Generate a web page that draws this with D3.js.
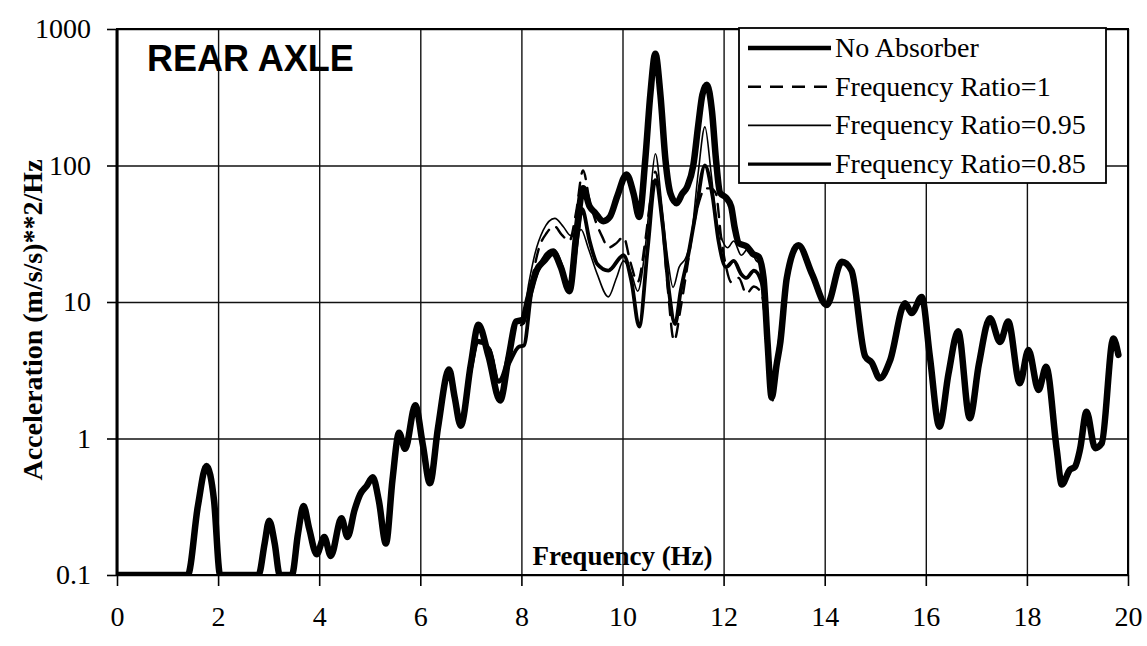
<!DOCTYPE html>
<html>
<head>
<meta charset="utf-8">
<script src="https://cdn.jsdelivr.net/npm/d3@7/dist/d3.min.js"></script>
<style>
  body { margin: 0; background: #fff; }
  svg { display: block; }
</style>
</head>
<body>
<div class="psdChart"></div>
<script>
// Frequency (Hz) and PSD values
const freqNoAbsorber = [0, 1.40, 1.60, 1.77, 1.92, 2.04, 2.80, 2.92, 3.01, 3.12, 3.22, 3.46, 3.58, 3.69, 3.80, 3.95,
  4.10, 4.23, 4.44, 4.56, 4.70, 4.81, 4.94, 5.06, 5.18, 5.32, 5.45, 5.58, 5.70, 5.90, 6.05, 6.19, 6.35, 6.57, 6.68,
  6.80, 7.00, 7.15, 7.35, 7.58, 7.75, 7.90, 8.02, 8.15, 8.30, 8.45, 8.63, 8.78, 8.95, 9.10, 9.22, 9.35, 9.46, 9.62,
  9.75, 9.90, 10.08, 10.22, 10.33, 10.45, 10.55, 10.65, 10.75, 10.85, 10.95, 11.07, 11.18, 11.28, 11.40, 11.50,
  11.58, 11.67, 11.77, 11.85, 11.93, 12.05, 12.15, 12.22, 12.30, 12.46, 12.58, 12.69, 12.79, 12.87, 12.95, 13.05,
  13.12, 13.25, 13.48, 13.75, 14.04, 14.34, 14.53, 14.80, 14.93, 15.09, 15.29, 15.59, 15.72, 15.92, 16.08, 16.27,
  16.45, 16.64, 16.87, 17.05, 17.27, 17.47, 17.63, 17.86, 18.03, 18.23, 18.38, 18.59, 18.69, 18.85, 18.95, 19.05,
  19.18, 19.35, 19.48, 19.71, 19.81];
const noAbsorber = [0.1, 0.1, 0.32, 0.63, 0.35, 0.1, 0.1, 0.17, 0.25, 0.17, 0.1, 0.1, 0.2, 0.32, 0.22, 0.142,
  0.19, 0.138, 0.26, 0.19, 0.3, 0.39, 0.45, 0.52, 0.35, 0.17, 0.5, 1.1, 0.84, 1.75, 0.9, 0.47, 1.2, 3.2, 2.0,
  1.24, 3.5, 6.8, 4.0, 1.9, 4.0, 7.2, 7.4, 11, 17, 20, 23, 18, 12, 35, 68, 50, 45, 39,
  42, 60, 86, 62, 42, 110, 330, 660, 330, 110, 62, 53, 62, 70, 100, 200,
  330, 390, 250, 110, 63, 58, 50, 35, 27, 25.5, 22.5, 21.5, 15, 5, 2.0, 3.5,
  5, 15, 26, 16, 9.5, 19.7, 17, 4.0, 3.6, 2.76, 3.7, 9.8, 8.3, 10.9, 4.0, 1.22,
  3.0, 6.1, 1.41, 3.5, 7.6, 5.1, 7.2, 2.54, 4.45, 2.27, 3.36, 0.83, 0.46, 0.59, 0.62, 0.83,
  1.57, 0.85, 0.92, 5.4, 4.1];

const freqRatio1 = [6.35, 6.57, 6.80, 7.00, 7.15, 7.38, 7.55, 7.75, 7.90, 8.05, 8.20, 8.35, 8.50, 8.65, 8.80, 8.95,
  9.08, 9.22, 9.35, 9.48, 9.60, 9.72, 9.88, 10.02, 10.15, 10.30, 10.45, 10.55, 10.65, 10.78, 10.90, 11.02, 11.15,
  11.28, 11.40, 11.52, 11.63, 11.75, 11.85, 11.95, 12.05, 12.15, 12.30, 12.45, 12.60, 12.75, 12.87, 12.95, 13.05,
  13.25];
const ratio1 = [1.2, 3.2, 1.3, 3.2, 5.0, 4.5, 2.6, 4.0, 6.5, 7.0, 14, 25, 32, 36, 31, 28,
  45, 92, 55, 38, 30, 25, 27, 30, 20, 14, 28, 55, 90, 40, 12, 5.2, 9,
  18, 35, 55, 68, 68, 62, 30, 18, 14, 15, 11.5, 13, 11.5, 4.5, 1.8, 3.5,
  15];

const freqRatio095 = [6.35, 6.57, 6.80, 7.00, 7.15, 7.38, 7.55, 7.75, 7.90, 8.02, 8.15, 8.27, 8.43, 8.66, 8.83,
  8.96, 9.08, 9.18, 9.32, 9.50, 9.72, 9.88, 10.02, 10.18, 10.30, 10.45, 10.55, 10.65, 10.78, 10.90, 11.00, 11.12,
  11.25, 11.35, 11.50, 11.63, 11.75, 11.85, 11.98, 12.08, 12.20, 12.35, 12.50, 12.65, 12.75, 12.87, 12.95, 13.05,
  13.25];
const ratio095 = [1.2, 3.3, 1.3, 3.3, 5.0, 4.6, 2.7, 4.5, 7.3, 7.5, 14, 22.7, 33.5, 41, 35.6,
  30.8, 30, 34, 25, 16, 10.9, 15, 20, 16, 12, 25, 60, 122, 50, 20, 12.8, 18,
  21, 28, 90, 192, 90, 42, 28, 25, 28, 22, 25, 20, 19, 5, 2.0, 3.5,
  15];

const freqRatio085 = [6.35, 6.57, 6.80, 7.00, 7.15, 7.38, 7.55, 7.75, 7.95, 8.05, 8.20, 8.35, 8.63, 8.78, 8.95,
  9.10, 9.20, 9.35, 9.50, 9.72, 10.02, 10.18, 10.33, 10.50, 10.65, 10.80, 10.92, 11.04, 11.15, 11.30, 11.45,
  11.63, 11.78, 11.90, 12.05, 12.20, 12.35, 12.45, 12.60, 12.75, 12.87, 12.95, 13.05, 13.25];
const ratio085 = [1.2, 3.0, 1.3, 3.2, 5.2, 4.4, 2.6, 3.5, 4.7, 4.8, 12, 18, 24, 19, 12,
  28, 48, 28, 19, 17, 22, 14, 6.6, 25, 78, 35, 12, 6.9, 12, 22, 45,
  100, 60, 28, 18, 20, 16, 15, 17, 14, 5, 2.0, 3.5, 15];

// Axis ticks and labels
const xTicks = [0, 2, 4, 6, 8, 10, 12, 14, 16, 18, 20];
const yTicks = [0.1, 1, 10, 100, 1000];
const yTickLabels = ["0.1", "1", "10", "100", "1000"];
const seriesNames = ["No Absorber", "Frequency Ratio=1", "Frequency Ratio=0.95", "Frequency Ratio=0.85"];

// Chart size
let margin = {top: 29, right: 19, bottom: 71, left: 117},
    width = 1147 - margin.left - margin.right,
    height = 646 - margin.top - margin.bottom;

let svgRoot = d3.select(".psdChart")
    .append("svg")
    .attr("width", 1147)
    .attr("height", 646);

svgRoot.append("rect").attr("width", 1147).attr("height", 646).attr("fill", "#fff");

let svg = svgRoot.append("g")
    .attr("transform", "translate(" + margin.left + "," + margin.top + ")");

// Scales
let x = d3.scaleLinear().domain([0, 20]).range([0, width]);
let y = d3.scaleLog().domain([0.1, 1000]).range([height, 0]);

// Gridlines
svg.append("g")
    .attr("transform", "translate(0," + height + ")")
    .call(d3.axisBottom(x).tickValues(xTicks).tickSize(-height).tickFormat(""))
    .call(g => g.select(".domain").remove())
    .selectAll("line").attr("stroke", "#111").attr("stroke-width", 1.4);

svg.append("g")
    .call(d3.axisLeft(y).tickValues(yTicks).tickSize(-width).tickFormat(""))
    .call(g => g.select(".domain").remove())
    .selectAll("line").attr("stroke", "#111").attr("stroke-width", 1.4);

// X axis
let xAxis = svg.append("g")
    .attr("transform", "translate(0," + height + ")")
    .call(d3.axisBottom(x).tickValues(xTicks).tickSize(11).tickPadding(20));
xAxis.select(".domain").remove();
xAxis.selectAll("line").attr("stroke", "#000").attr("stroke-width", 1.6);
xAxis.selectAll("text")
    .attr("font-family", "'Liberation Serif', 'Times New Roman', serif")
    .attr("font-size", 28)
    .attr("fill", "#000");

// Y axis
let yAxis = svg.append("g")
    .call(d3.axisLeft(y).tickValues(yTicks).tickSize(10).tickPadding(16)
        .tickFormat((d, i) => yTickLabels[i]));
yAxis.select(".domain").remove();
yAxis.selectAll("line").attr("stroke", "#000").attr("stroke-width", 1.6);
yAxis.selectAll("text")
    .attr("font-family", "'Liberation Serif', 'Times New Roman', serif")
    .attr("font-size", 28)
    .attr("fill", "#000");

// Plot frame
svg.append("rect")
    .attr("width", width).attr("height", height)
    .attr("fill", "none").attr("stroke", "#000").attr("stroke-width", 2);
svg.append("line")
    .attr("x1", 0).attr("x2", 0).attr("y1", 0).attr("y2", height)
    .attr("stroke", "#000").attr("stroke-width", 3);

// Clip for the curves
svg.append("clipPath").attr("id", "plotClip")
    .append("rect").attr("width", width).attr("height", height);

let line = d3.line()
    .x(d => x(d[0]))
    .y(d => y(Math.max(d[1], 0.1)))
    .curve(d3.curveMonotoneX);

// Line styles for each series
const styles = [
    {width: 6.5, dash: null, legendWidth: 4.5},
    {width: 2.4, dash: "13,9", legendWidth: 2.6},
    {width: 1.6, dash: null, legendWidth: 1.8},
    {width: 3.8, dash: null, legendWidth: 3.4}
];
const seriesData = [
    d3.zip(freqNoAbsorber, noAbsorber),
    d3.zip(freqRatio1, ratio1),
    d3.zip(freqRatio095, ratio095),
    d3.zip(freqRatio085, ratio085)
];

let curves = svg.append("g").attr("clip-path", "url(#plotClip)");
seriesData.forEach((data, i) => {
    curves.append("path")
        .datum(data)
        .attr("d", line)
        .attr("fill", "none")
        .attr("stroke", "#000")
        .attr("stroke-width", styles[i].width)
        .attr("stroke-dasharray", styles[i].dash)
        .attr("stroke-linejoin", "round")
        .attr("stroke-linecap", "round");
});

// Titles
svg.append("text")
    .attr("x", 30).attr("y", 42)
    .attr("font-family", "'Liberation Sans', Arial, sans-serif")
    .attr("font-weight", "bold")
    .attr("font-size", 36)
    .text("REAR AXLE");

svg.append("text")
    .attr("x", width / 2).attr("y", height - 10)
    .attr("text-anchor", "middle")
    .attr("font-family", "'Liberation Serif', 'Times New Roman', serif")
    .attr("font-weight", "bold")
    .attr("font-size", 27)
    .text("Frequency (Hz)");

svgRoot.append("text")
    .attr("transform", "translate(42,320) rotate(-90)")
    .attr("text-anchor", "middle")
    .attr("font-family", "'Liberation Serif', 'Times New Roman', serif")
    .attr("font-weight", "bold")
    .attr("font-size", 28)
    .text("Acceleration (m/s/s)**2/Hz");

// Legend
let legend = svgRoot.append("g").attr("transform", "translate(739,28)");
legend.append("rect")
    .attr("width", 367).attr("height", 155)
    .attr("fill", "#fff").attr("stroke", "#000").attr("stroke-width", 1.8);

seriesNames.forEach((name, i) => {
    let row = legend.append("g").attr("transform", "translate(0," + (20 + i * 38.7) + ")");
    row.append("line")
        .attr("x1", 9).attr("x2", 92)
        .attr("stroke", "#000")
        .attr("stroke-width", styles[i].legendWidth)
        .attr("stroke-dasharray", styles[i].dash);
    row.append("text")
        .attr("x", 96).attr("y", 9)
        .attr("font-family", "'Liberation Serif', 'Times New Roman', serif")
        .attr("font-size", 28)
        .text(name);
});
</script>
</body>
</html>
